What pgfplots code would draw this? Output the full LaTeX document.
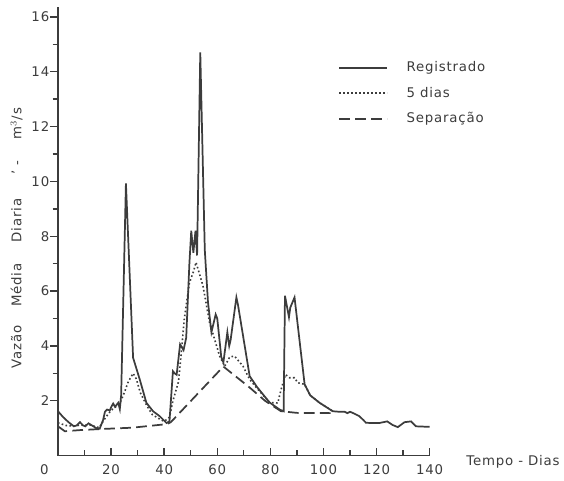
\documentclass[border=0pt]{standalone}
\usepackage{fontspec}
\setmainfont{DejaVu Sans}[LetterSpace=6]
\usepackage{pgfplots}
\pgfplotsset{compat=1.18}
\definecolor{ink}{HTML}{3C3C3C}

\pgfplotstableread{
x y
0 1.62
2 1.40
4 1.22
6 1.07
7 1.10
8.3 1.22
9.5 1.10
10.3 1.07
11.5 1.18
12.5 1.12
14.5 1.00
15.7 0.98
17 1.30
17.7 1.60
18.5 1.68
19.5 1.65
20.2 1.80
20.8 1.90
21.5 1.78
22.7 1.93
23.3 1.70
23.8 2.20
25.6 9.93
28.3 3.57
30.8 2.78
33.3 1.93
35.8 1.62
38.3 1.44
40.9 1.19
42.0 1.25
43.3 3.08
44.0 3.00
44.7 2.95
46.0 4.06
47.3 3.85
48.3 4.30
49.5 7.00
50.2 8.20
51.0 7.40
51.8 8.20
52.4 7.30
53.6 14.70
55.3 7.50
56.5 5.60
57.8 4.50
59.4 5.15
60.0 5.00
61.5 3.60
62.3 3.40
63.8 4.50
64.5 4.00
65.0 4.20
67.2 5.77
67.8 5.50
72.2 2.90
75.0 2.50
79.7 1.94
83.5 1.68
85.0 1.62
85.5 5.83
87.0 5.05
87.5 5.40
89.1 5.77
92.9 2.60
95.0 2.20
98.5 1.93
103.5 1.62
106 1.60
108 1.60
109 1.55
110 1.60
111 1.56
113.5 1.44
115 1.30
116 1.20
118 1.19
121 1.19
124 1.25
126 1.12
128 1.04
130.5 1.22
133 1.25
134.8 1.07
140 1.05
}\registrado

\pgfplotstableread{
x y
0 1.20
3 1.10
6 1.08
9 1.12
12 1.12
15.5 1.02
18 1.40
20 1.65
22 1.80
23.5 1.95
25 2.30
26.5 2.70
28.3 3.00
29.5 2.80
31 2.30
33.3 1.85
35.5 1.50
38 1.35
40 1.25
42 1.40
43.3 2.00
45.4 2.70
46.5 3.80
47.6 5.00
49.5 6.30
51 6.70
52 7.05
54.6 6.20
57.1 4.85
60.9 3.63
62.8 3.26
64.7 3.60
66.5 3.63
69.7 3.26
72.2 2.78
75 2.45
79.7 1.94
82.8 1.92
84 2.40
85.7 2.96
87.2 2.84
89.1 2.84
90.3 2.66
92.9 2.60
95 2.20
98.5 1.93
103.5 1.62
}\cincodias

\pgfplotstableread{
x y
0 1.07
2.6 0.89
8 0.93
16 0.97
28 1.02
41 1.15
42.5 1.22
62.3 3.25
72 2.50
78 2.00
84 1.62
90 1.56
104 1.55
}\separacao

\begin{document}
\begin{tikzpicture}
\begin{axis}[
  name=ax,
  scale only axis,
  width=279pt, height=336.75pt,
  xmin=0, xmax=140, ymin=0, ymax=16.36,
  axis lines*=left,
  axis line style={ink, line width=1.1pt},
  xtick={0,20,...,140},
  xticklabels={\llap{0\hspace{7pt}},20,40,60,80,100,120,140},
  ytick={2,4,...,16},
  minor x tick num=1,
  minor y tick num=1,
  xtick align=inside,
  ytick align=outside,
  major tick length=6pt,
  minor tick length=4pt,
  tick style={ink, line width=1pt},
  /pgf/number format/assume math mode=true,
  tick label style={font=\fontsize{10}{12}\selectfont, text=ink},
  xticklabel style={yshift=-3pt},
  yticklabel style={xshift=3pt},
  xlabel={Tempo - Dias},
  xlabel style={at={(axis description cs:1,0)}, anchor=west,
                xshift=24pt, yshift=-5pt, font=\fontsize{10}{12}\selectfont, text=ink},
  ylabel={Vazão\hspace{14pt}Média\hspace{16pt}Diaria\hspace{18pt}'\hspace{4pt}-\hspace{16pt}m$^{3}$/s},
  ylabel style={at={(axis description cs:0,0.5)}, anchor=center,
                xshift=-5pt, yshift=31pt, font=\fontsize{10}{12}\selectfont, text=ink},
  legend style={at={(axis cs:104,14.57)}, anchor=north west, draw=none, fill=none,
                font=\fontsize{10}{12}\selectfont, text=ink, row sep=6pt,
                /tikz/every odd column/.append style={column sep=12pt}},
  legend cell align=left,
  legend image code/.code={\draw[#1] (0pt,0pt) -- (36pt,0pt);},
]
\addplot[ink, line width=1.3pt, mark=none] table {\registrado};
\addlegendentry{Registrado}
\addplot[ink, line width=1.2pt, dash pattern=on 1.2pt off 1.8pt, mark=none] table {\cincodias};
\addlegendentry{5 dias}
\addplot[ink, line width=1.3pt, dash pattern=on 8pt off 4pt, mark=none] table {\separacao};
\addlegendentry{Separação}
\end{axis}
\path[use as bounding box] ([xshift=-43.5pt,yshift=-18.75pt]ax.south west)
  rectangle ([xshift=379.5pt,yshift=342pt]ax.south west);
\end{tikzpicture}
\end{document}
